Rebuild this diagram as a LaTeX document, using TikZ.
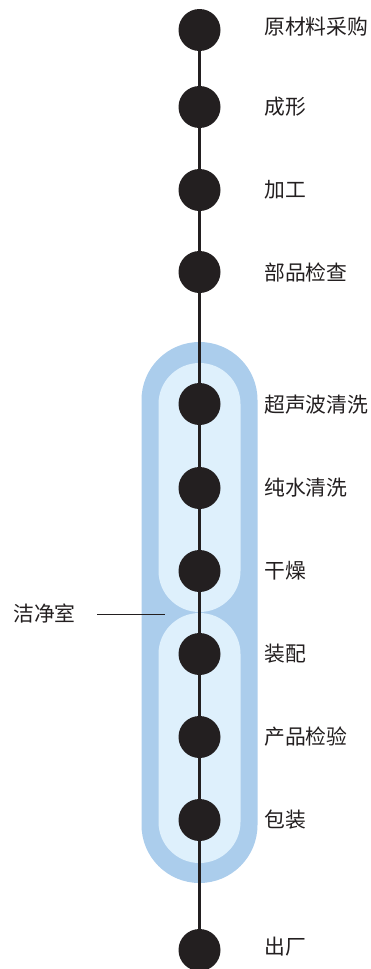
\documentclass[tikz,border=0pt]{standalone}
\usepackage{fontspec}
\newfontfamily\cjk{Noto Sans CJK SC}
\definecolor{outerblue}{HTML}{ABCDEC}
\definecolor{innerblue}{HTML}{DEF0FC}
\definecolor{dotcol}{HTML}{231F20}
\definecolor{txtcol}{HTML}{231F20}
\begin{document}
\begin{tikzpicture}[x=1pt,y=-1pt,
  dot/.style={circle,fill=dotcol,minimum size=42pt,inner sep=0pt},
  lbl/.style={anchor=west,font=\cjk\fontsize{20.8}{21}\selectfont,text=txtcol,inner sep=0pt},
  spine/.style={draw=dotcol,line width=3.5pt}]
\useasboundingbox (0,0) rectangle (371,969);
% clean room shapes
\fill[outerblue,rounded corners=58pt] (141.5,342) rectangle (257.5,883);
\fill[innerblue,rounded corners=41pt] (158.5,363) rectangle (240.5,612);
\fill[innerblue,rounded corners=41pt] (158.5,613) rectangle (240.5,863);
% dots
\foreach \n/\y in {a/30,b/107,c/190,d/272,e/404,f/488,g/571,h/654,i/737,j/820,k/950}
  \node[dot] (\n) at (199.5,\y) {};
\draw[spine] (a) -- (b) -- (c) -- (d) -- (e) -- (f) -- (g) -- (h) -- (i) -- (j) -- (k);
% labels
\node[lbl] at (264,27) {原材料采购};
\node[lbl] at (264,107) {成形};
\node[lbl] at (264,190) {加工};
\node[lbl] at (264,273) {部品检查};
\node[lbl] at (264,405) {超声波清洗};
\node[lbl] at (264,488) {纯水清洗};
\node[lbl] at (264,571) {干燥};
\node[lbl] at (264,654) {装配};
\node[lbl] at (264,737) {产品检验};
\node[lbl] at (264,820) {包装};
\node[lbl] at (264,947) {出厂};
\node[lbl] (cr) at (13,613) {洁净室};
\coordinate (crend) at (165,614);
\draw[dotcol,line width=0.8pt] (97,614) -- (crend);
\end{tikzpicture}
\end{document}
